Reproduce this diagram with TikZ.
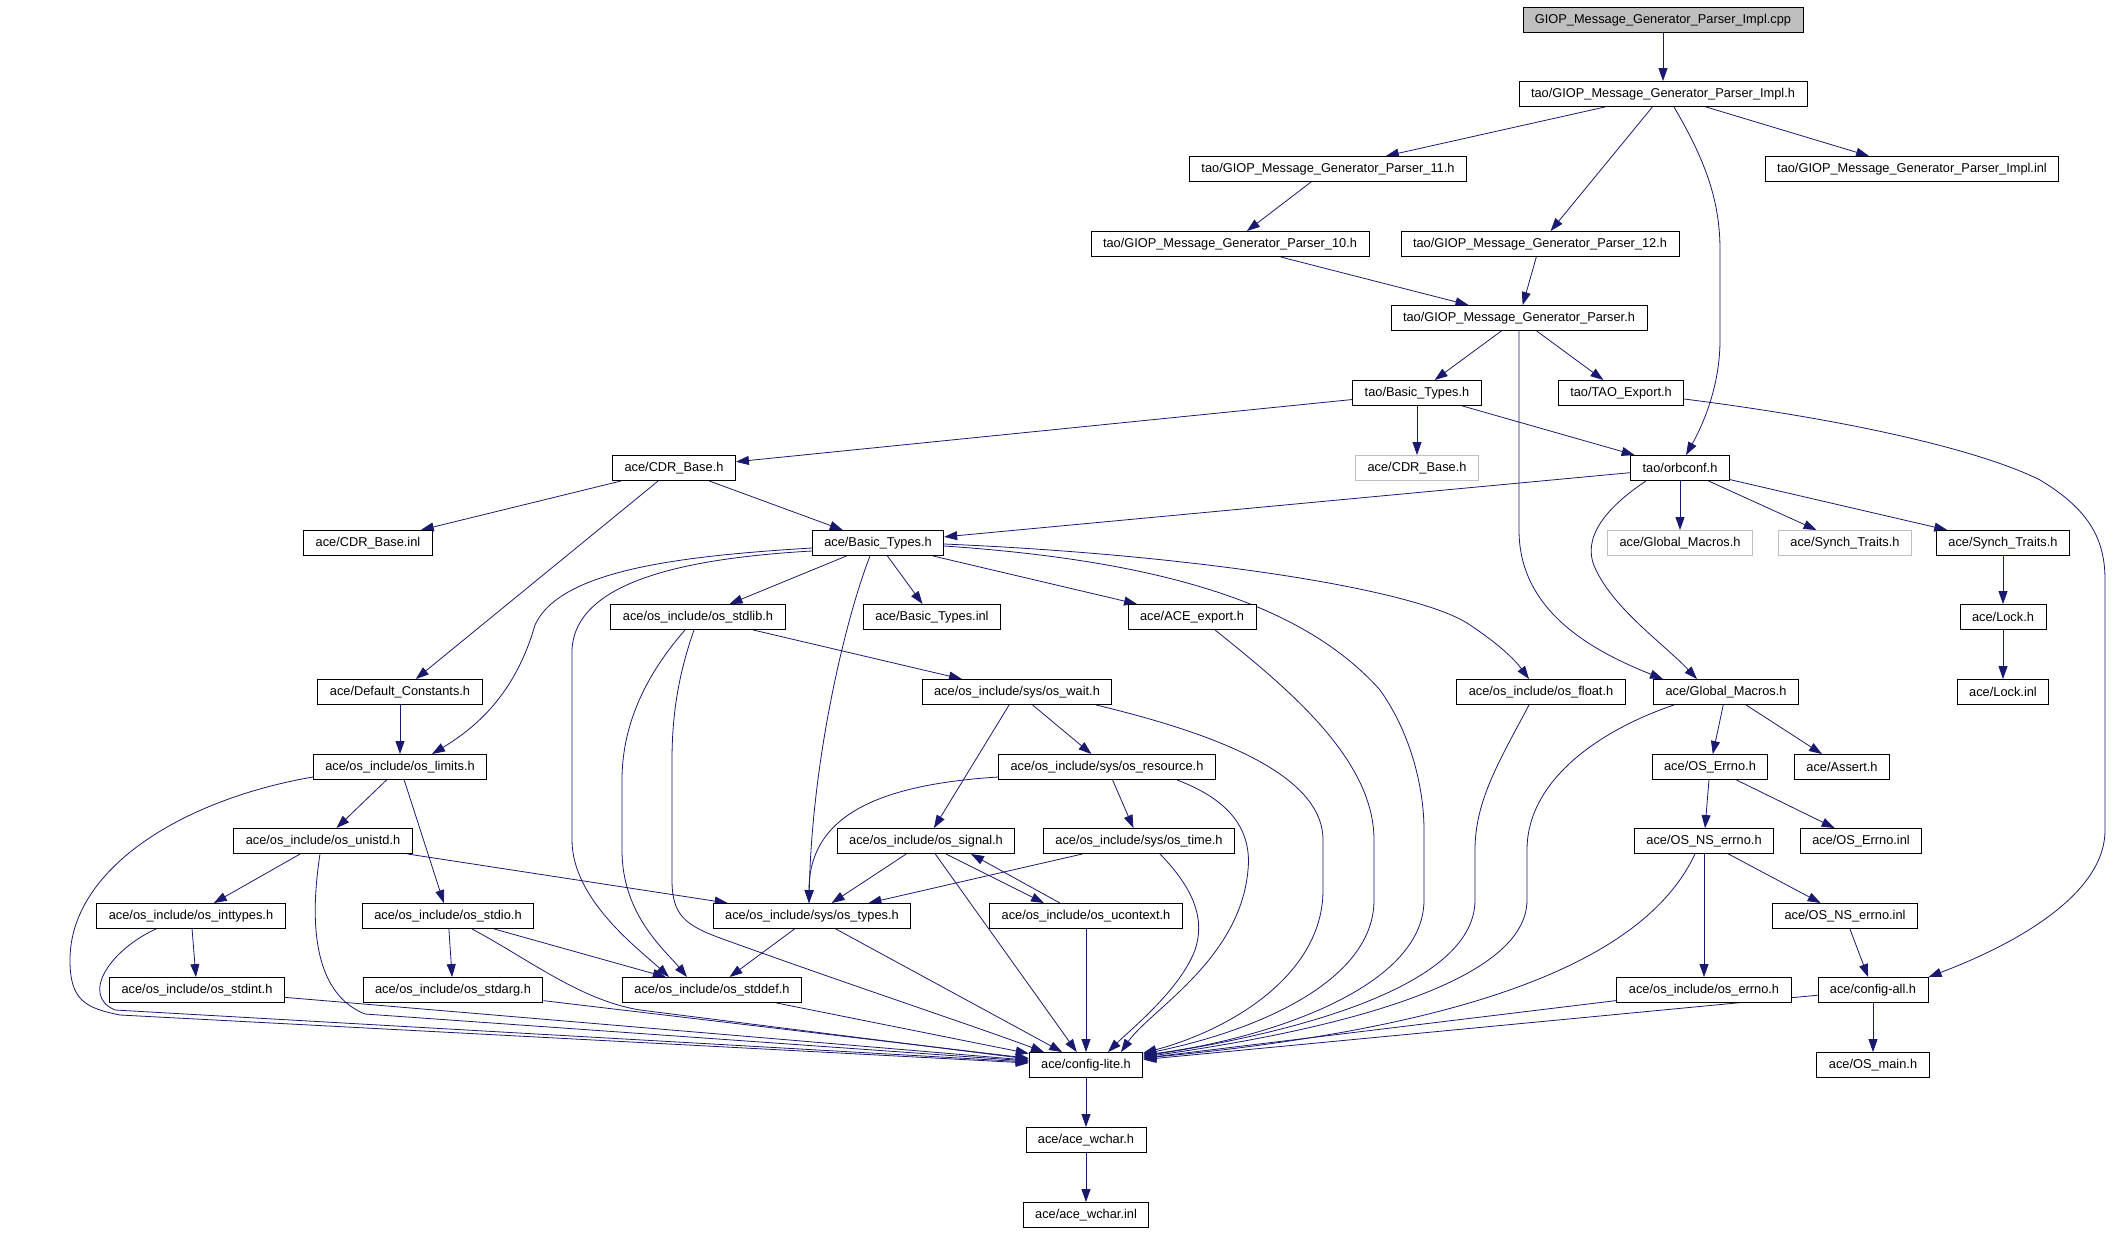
\documentclass[tikz,border=0pt]{standalone}
\usepackage{fontspec}
\setmainfont{Liberation Sans}
\usepackage{tikz}
\definecolor{white}{rgb}{1.0, 1.0, 1.0}
\definecolor{black}{rgb}{0.0, 0.0, 0.0}
\definecolor{navy}{RGB}{25,25,112}
\definecolor{lgray}{RGB}{191,191,191}
\usetikzlibrary{arrows.meta}
\pgfdeclarelayer{edgelayer}
\pgfdeclarelayer{nodelayer}
\pgfsetlayers{edgelayer,nodelayer,main}
\tikzstyle{file}=[rectangle,fill=white,draw=black,line width=0.9pt,minimum height=25pt,inner xsep=12pt,inner ysep=0pt,font=\fontsize{12.8}{14}\selectfont]
\tikzstyle{edge}=[draw=navy,line width=0.8pt,-{Triangle[length=13pt,width=9pt]}]

\begin{document}
\begin{tikzpicture}[x=1pt, y=-1pt]
        \useasboundingbox (0, 0) rectangle (2123, 1232);

        \begin{pgfonlayer}{nodelayer}
            \node [style = file, fill=lgray] (cpp) at (1663, 20) {GIOP\_Message\_Generator\_Parser\_Impl.cpp};
            \node [style = file] (implh) at (1663, 94) {tao/GIOP\_Message\_Generator\_Parser\_Impl.h};
            \node [style = file] (p11) at (1328, 169) {tao/GIOP\_Message\_Generator\_Parser\_11.h};
            \node [style = file] (implinl) at (1912, 169) {tao/GIOP\_Message\_Generator\_Parser\_Impl.inl};
            \node [style = file] (p10) at (1230, 244) {tao/GIOP\_Message\_Generator\_Parser\_10.h};
            \node [style = file] (p12) at (1540, 244) {tao/GIOP\_Message\_Generator\_Parser\_12.h};
            \node [style = file] (parser) at (1519, 318) {tao/GIOP\_Message\_Generator\_Parser.h};

            \node [style = file] (taobasic) at (1417, 393) {tao/Basic\_Types.h};
            \node [style = file] (taoexport) at (1621, 393) {tao/TAO\_Export.h};
            \node [style = file, draw=lgray] (cdrgray) at (1417, 468) {ace/CDR\_Base.h};
            \node [style = file] (orbconf) at (1680, 468) {tao/orbconf.h};
            \node [style = file] (cdrbase) at (674, 468) {ace/CDR\_Base.h};

            \node [style = file] (cdrinl) at (368, 543) {ace/CDR\_Base.inl};
            \node [style = file] (acebasic) at (878, 543) {ace/Basic\_Types.h};
            \node [style = file, draw=lgray] (gmgray) at (1680, 543) {ace/Global\_Macros.h};
            \node [style = file, draw=lgray] (stgray) at (1845, 543) {ace/Synch\_Traits.h};
            \node [style = file] (synch) at (2003, 543) {ace/Synch\_Traits.h};

            \node [style = file] (stdlib) at (698, 617) {ace/os\_include/os\_stdlib.h};
            \node [style = file] (basicinl) at (932, 617) {ace/Basic\_Types.inl};
            \node [style = file] (aceexport) at (1192, 617) {ace/ACE\_export.h};
            \node [style = file] (lock) at (2003, 617) {ace/Lock.h};

            \node [style = file] (defconst) at (400, 692) {ace/Default\_Constants.h};
            \node [style = file] (oswait) at (1017, 692) {ace/os\_include/sys/os\_wait.h};
            \node [style = file] (osfloat) at (1541, 692) {ace/os\_include/os\_float.h};
            \node [style = file] (gmacros) at (1726, 692) {ace/Global\_Macros.h};
            \node [style = file] (lockinl) at (2003, 692) {ace/Lock.inl};

            \node [style = file] (limits) at (400, 767) {ace/os\_include/os\_limits.h};
            \node [style = file] (resource) at (1107, 767) {ace/os\_include/sys/os\_resource.h};
            \node [style = file] (oserrno) at (1710, 767) {ace/OS\_Errno.h};
            \node [style = file] (assert) at (1842, 767) {ace/Assert.h};

            \node [style = file] (unistd) at (323, 841) {ace/os\_include/os\_unistd.h};
            \node [style = file] (signal) at (926, 841) {ace/os\_include/os\_signal.h};
            \node [style = file] (ostime) at (1139, 841) {ace/os\_include/sys/os\_time.h};
            \node [style = file] (nserrno) at (1704, 841) {ace/OS\_NS\_errno.h};
            \node [style = file] (errnoinl) at (1861, 841) {ace/OS\_Errno.inl};

            \node [style = file] (inttypes) at (191, 916) {ace/os\_include/os\_inttypes.h};
            \node [style = file] (stdio) at (448, 916) {ace/os\_include/os\_stdio.h};
            \node [style = file] (types) at (812, 916) {ace/os\_include/sys/os\_types.h};
            \node [style = file] (ucontext) at (1086, 916) {ace/os\_include/os\_ucontext.h};
            \node [style = file] (nserrnoinl) at (1845, 916) {ace/OS\_NS\_errno.inl};

            \node [style = file] (stdint) at (197, 990) {ace/os\_include/os\_stdint.h};
            \node [style = file] (stdarg) at (453, 990) {ace/os\_include/os\_stdarg.h};
            \node [style = file] (stddef) at (712, 990) {ace/os\_include/os\_stddef.h};
            \node [style = file] (errnoh) at (1704, 990) {ace/os\_include/os\_errno.h};
            \node [style = file] (configall) at (1873, 990) {ace/config-all.h};

            \node [style = file] (configlite) at (1086, 1065) {ace/config-lite.h};
            \node [style = file] (osmain) at (1873, 1065) {ace/OS\_main.h};
            \node [style = file] (wchar) at (1086, 1140) {ace/ace\_wchar.h};
            \node [style = file] (wcharinl) at (1086, 1215) {ace/ace\_wchar.inl};
        \end{pgfonlayer}

        \begin{pgfonlayer}{edgelayer}
            \draw [style = edge] (cpp) to (implh);
            \draw [style = edge] (implh) to (p11);
            \draw [style = edge] (implh) to (p12);
            \draw [style = edge] (implh) to (implinl);
            \draw [style = edge] ([xshift=11pt]implh.south) .. controls (1705, 160) and (1720, 200) .. (1720, 250) -- (1720, 340) .. controls (1720, 390) and (1700, 430) .. ([xshift=6pt]orbconf.north);
            \draw [style = edge] (p11) to (p10);
            \draw [style = edge] (p10) to (parser);
            \draw [style = edge] (p12) to (parser);

            \draw [style = edge] (parser) to (taobasic);
            \draw [style = edge] (parser) to (taoexport);
            \draw [style = edge] (parser.south) -- (1519, 530) .. controls (1519, 610) and (1590, 650) .. ([xshift=-63pt]gmacros.north);
            \draw [style = edge] (taobasic) to (cdrbase);
            \draw [style = edge] (taobasic) to (cdrgray);
            \draw [style = edge] (taobasic) to (orbconf);
            \draw [style = edge] ([yshift=-6pt]taoexport.east) .. controls (1850, 420) and (1980, 450) .. (2040, 480) .. controls (2090, 510) and (2105, 540) .. (2105, 580) -- (2105, 830) .. controls (2105, 900) and (2000, 950) .. (configall.north east);

            \draw [style = edge] (orbconf) to (acebasic);
            \draw [style = edge] (orbconf) to (gmgray);
            \draw [style = edge] (orbconf) to (stgray);
            \draw [style = edge] (orbconf) to (synch);
            \draw [style = edge] ([xshift=-34pt]orbconf.south) .. controls (1595, 515) and (1583, 545) .. (1596, 570) .. controls (1615, 610) and (1665, 645) .. ([xshift=-29pt]gmacros.north);
            \draw [style = edge] (synch) to (lock);
            \draw [style = edge] (lock) to (lockinl);

            \draw [style = edge] (cdrbase) to (cdrinl);
            \draw [style = edge] (cdrbase) to (acebasic);
            \draw [style = edge] (cdrbase) to (defconst);

            \draw [style = edge] (acebasic) to (stdlib);
            \draw [style = edge] (acebasic) to (basicinl);
            \draw [style = edge] (acebasic) to (aceexport);
            \draw [style = edge] ([yshift=-5pt]acebasic.west) .. controls (680, 556) and (560, 570) .. (535, 625) .. controls (515, 695) and (475, 728) .. ([xshift=32pt]limits.north);
            \draw [style = edge] ([yshift=-8pt]acebasic.west) .. controls (690, 558) and (575, 580) .. (572, 650) -- (572, 840) .. controls (572, 900) and (640, 950) .. ([xshift=-43pt]stddef.north);
            \draw [style = edge] ([xshift=-8pt]acebasic.south) .. controls (845, 620) and (812, 760) .. ([xshift=-3pt]types.north);
            \draw [style = edge] ([yshift=-1pt]acebasic.east) .. controls (1200, 555) and (1420, 590) .. (1470, 625) .. controls (1500, 645) and (1515, 660) .. ([xshift=-12pt]osfloat.north);
            \draw [style = edge] ([yshift=-3pt]acebasic.east) .. controls (1150, 560) and (1300, 600) .. (1380, 690) .. controls (1412, 735) and (1424, 790) .. (1424, 830) -- (1424, 900) .. controls (1424, 990) and (1260, 1040) .. ([yshift=10pt]configlite.east);

            \draw [style = edge] (stdlib) to (oswait);
            \draw [style = edge] ([xshift=-13pt]stdlib.south) .. controls (650, 670) and (622, 720) .. (622, 780) -- (622, 850) .. controls (622, 915) and (665, 950) .. ([xshift=-25pt]stddef.north);
            \draw [style = edge] ([xshift=-4pt]stdlib.south) .. controls (680, 670) and (672, 710) .. (672, 760) -- (672, 880) .. controls (672, 915) and (685, 925) .. (720, 938) .. controls (850, 985) and (980, 1028) .. ([xshift=-42pt]configlite.north);
            \draw [style = edge] ([xshift=23pt]aceexport.south) .. controls (1290, 690) and (1374, 760) .. (1374, 840) -- (1374, 900) .. controls (1374, 980) and (1260, 1030) .. ([yshift=11pt]configlite.east);

            \draw [style = edge] (defconst) to (limits);
            \draw [style = edge] (limits) to (unistd);
            \draw [style = edge] (limits) to (stdio);
            \draw [style = edge] ([yshift=-10pt]limits.west) .. controls (180, 800) and (70, 870) .. (70, 960) .. controls (70, 1000) and (85, 1008) .. (120, 1015) -- ([yshift=2pt]configlite.west);
            \draw [style = edge] (unistd) to (inttypes);
            \draw [style = edge] (unistd) to (types);
            \draw [style = edge] ([xshift=-3pt]unistd.south) .. controls (313, 900) and (305, 990) .. (365, 1014) -- ([yshift=4pt]configlite.west);
            \draw [style = edge] (inttypes) to (stdint);
            \draw [style = edge] ([xshift=-35pt]inttypes.south) .. controls (110, 950) and (80, 995) .. (115, 1010) -- ([yshift=3pt]configlite.west);
            \draw [style = edge] (stdio) to (stdarg);
            \draw [style = edge] (stdio) to (stddef);
            \draw [style = edge] ([xshift=24pt]stdio.south) .. controls (530, 960) and (580, 1000) .. (640, 1010) -- ([yshift=6pt]configlite.west);

            \draw [style = edge] (oswait) to (signal);
            \draw [style = edge] (oswait) to (resource);
            \draw [style = edge] ([xshift=79pt]oswait.south) .. controls (1200, 730) and (1323, 770) .. (1323, 840) -- (1323, 890) .. controls (1323, 975) and (1230, 1030) .. ([yshift=12pt]configlite.east);
            \draw [style = edge] (resource) to (ostime);
            \draw [style = edge] ([yshift=-10pt]resource.west) .. controls (870, 785) and (809, 820) .. ([xshift=-3pt]types.north);
            \draw [style = edge] ([xshift=70pt]resource.south) .. controls (1230, 800) and (1252, 830) .. (1248, 870) .. controls (1240, 960) and (1150, 1010) .. ([xshift=35pt]configlite.north);
            \draw [style = edge] (signal) to (types);
            \draw [style = edge] ([xshift=20pt]signal.south) to ([xshift=-42pt]ucontext.north);
            \draw [style = edge] ([xshift=-26pt]ucontext.north) to ([xshift=45pt]signal.south);
            \draw [style = edge] (signal) to (configlite);
            \draw [style = edge] (ostime) to (types);
            \draw [style = edge] ([xshift=21pt]ostime.south) .. controls (1195, 890) and (1205, 920) .. (1195, 950) .. controls (1180, 990) and (1130, 1030) .. ([xshift=22pt]configlite.north);

            \draw [style = edge] (types) to (stddef);
            \draw [style = edge] (types) to (configlite);
            \draw [style = edge] (ucontext) to (configlite);
            \draw [style = edge] (stdint) to (configlite);
            \draw [style = edge] (stdarg) to (configlite);
            \draw [style = edge] (stddef) to (configlite);

            \draw [style = edge] ([xshift=-12pt]osfloat.south) .. controls (1500, 760) and (1475, 800) .. (1475, 850) -- (1475, 900) .. controls (1475, 990) and (1280, 1035) .. ([yshift=9pt]configlite.east);
            \draw [style = edge] ([xshift=-52pt]gmacros.south) .. controls (1600, 730) and (1527, 780) .. (1527, 850) -- (1527, 900) .. controls (1527, 990) and (1300, 1035) .. ([yshift=8pt]configlite.east);
            \draw [style = edge] (gmacros) to (oserrno);
            \draw [style = edge] (gmacros) to (assert);
            \draw [style = edge] (oserrno) to (nserrno);
            \draw [style = edge] (oserrno) to (errnoinl);
            \draw [style = edge] (nserrno) to (errnoh);
            \draw [style = edge] (nserrno) to (nserrnoinl);
            \draw [style = edge] ([xshift=-9pt]nserrno.south) .. controls (1650, 950) and (1500, 1025) .. ([yshift=7pt]configlite.east);
            \draw [style = edge] (nserrnoinl) to (configall);
            \draw [style = edge] (errnoh) to (configlite);
            \draw [style = edge] (configall) to (configlite);
            \draw [style = edge] (configall) to (osmain);

            \draw [style = edge] (configlite) to (wchar);
            \draw [style = edge] (wchar) to (wcharinl);
        \end{pgfonlayer}
    \end{tikzpicture}
\end{document}
